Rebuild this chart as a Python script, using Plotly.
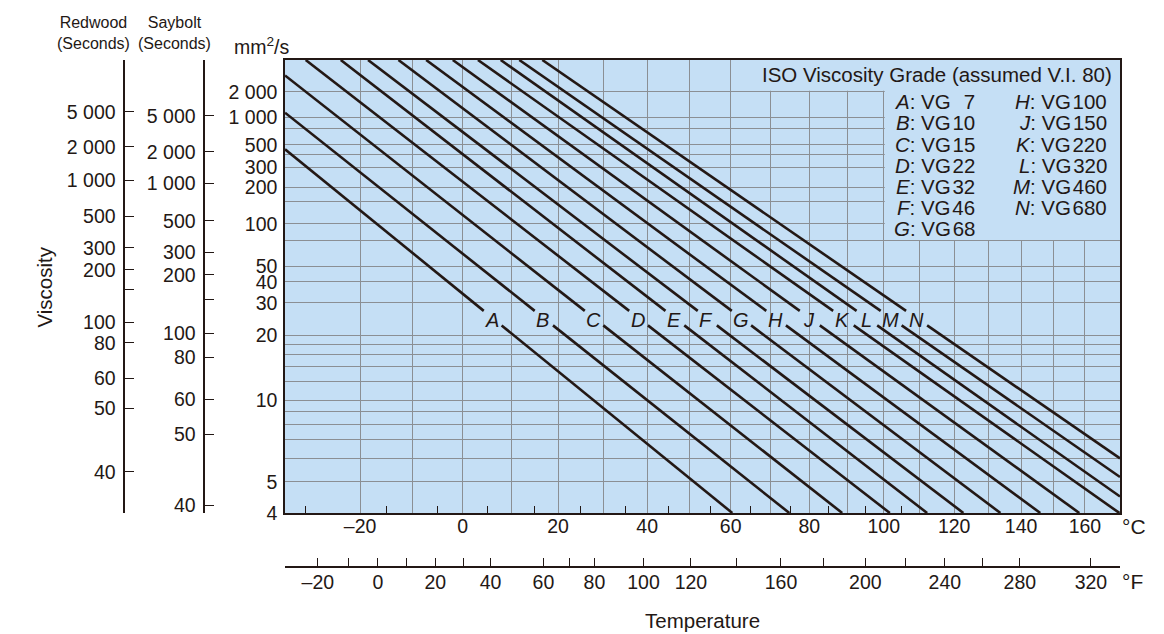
import numpy as np
import plotly.graph_objects as go

# ---------------- data ----------------
grade_letters = ["A", "B", "C", "D", "E", "F", "G", "H", "J", "K", "L", "M", "N"]
iso_vg = [7, 10, 15, 22, 32, 46, 68, 100, 150, 220, 320, 460, 680]
# each grade line: start point (temperature degC, viscosity mm2/s) and end point
start_temp_c = [-33.7, -33.7, -33.7, -30.0, -23.6, -18.5, -12.7, -7.3, -2.0, 3.1, 7.8, 11.7, 16.6]
start_visc = [453, 1122, 3240, 5270, 5270, 5270, 5270, 5270, 5270, 5270, 5270, 5270, 5270]
end_temp_c = [60.4, 74.8, 88.7, 101.7, 112.2, 122.7, 133.7, 145.9, 158.2, 171.2, 171.4, 171.4, 171.4]
end_visc = [4, 4, 4, 4, 4, 4, 4, 4, 4, 4, 4.49, 5.19, 6.0]

# kinematic viscosity grid / tick labels (mm2/s)
visc_grid = [4, 5, 6, 7, 8, 9, 10, 12, 14, 16, 18, 20, 30, 40, 50, 75, 100, 150, 200, 300, 400, 500, 750, 1000, 2000]
visc_labels = ["4", "5", "", "", "", "", "10", "", "", "", "", "20", "30", "40", "50", "", "100", "", "200", "300",
               "", "500", "", "1 000", "2 000"]

# Redwood seconds scale and equivalent mm2/s
redwood_sec_labels = ["40", "50", "60", "80", "100", "", "200", "300", "500", "1 000", "2 000", "5 000"]
redwood_equiv_cst = [5.40, 9.26, 12.4, 18.3, 23.3, 35.7, 47.6, 67.1, 115, 231, 480, 1152]
# Saybolt seconds scale and equivalent mm2/s
saybolt_sec_labels = ["40", "50", "60", "80", "100", "", "200", "300", "500", "1 000", "2 000", "5 000"]
saybolt_equiv_cst = [4.21, 7.33, 10.1, 15.5, 20.4, 31.2, 44.2, 62.3, 106, 216, 428, 1028]

# temperature scales
temp_grid_c = list(range(-20, 161, 10))
temp_labels_c = ["" if t % 20 else ("–" + str(-t) if t < 0 else str(t)) for t in temp_grid_c]
temp_minor_c = [-30, -15, -5, 5, 15, 25, 35, 45, 55, 65, 75, 85, 95, 105]
temp_ticks_f = [-20, -10, 0, 10, 20, 30, 40, 60, 70, 80, 100, 120, 140, 160, 180, 200, 220, 240, 260, 280, 320]
temp_labels_f = ["–20", "", "0", "", "20", "", "40", "60", "", "80", "100", "120", "", "160", "", "200", "", "240",
                 "", "280", "320"]

T_MIN, T_MAX = -33.7, 171.4
V_MIN, V_MAX = 4, 5270


# ---------------- chart scales (ASTM D341 style) ----------------
def tx(t):
    return np.log10(np.asarray(t, dtype=float) + 273.15)


def vy(v):
    return np.log10(np.log10(np.asarray(v, dtype=float) + 0.7))


INK = "#231815"
BG = "#c5dff5"
GRID = "#8b8f94"
FONT = "Liberation Sans, Arial, Helvetica, sans-serif"

OFF = 8  # page body margin
W, H = 1164 - OFF, 634 - OFF
ML, MR, MT, MB = 10, 44, 52, 4
PW, PH = W - ML - MR, H - MT - MB


def xp(px):  # screen px -> paper
    return (px - OFF - ML) / PW


def yp(py):
    return (H - MB - (py - OFF)) / PH


xr = [float(tx(T_MIN)), float(tx(T_MAX))]
yr = [float(vy(V_MIN)), float(vy(V_MAX))]
x_unit_per_px = (xr[1] - xr[0]) / (1120 - 285)
y_unit_per_px = (yr[1] - yr[0]) / (513 - 60)

fig = go.Figure()

# grade lines with a gap where the letter sits
gap_hi, gap_lo, lab_v = 27.0, 22.5, 24.0
annotations = []
for i, g in enumerate(grade_letters):
    X0, Y0 = float(tx(start_temp_c[i])), float(vy(start_visc[i]))
    X1, Y1 = float(tx(end_temp_c[i])), float(vy(end_visc[i]))

    def x_at(Y):
        return X0 + (Y - Y0) / (Y1 - Y0) * (X1 - X0)

    Yh, Yl, Ylab = float(vy(gap_hi)), float(vy(gap_lo)), float(vy(lab_v))
    xs = [X0, x_at(Yh), None, x_at(Yl), X1]
    ys = [Y0, Yh, None, Yl, Y1]
    fig.add_trace(go.Scatter(x=xs, y=ys, mode="lines", line=dict(color=INK, width=2.6),
                             hoverinfo="skip", showlegend=False, name=f"{g}: VG{iso_vg[i]}"))
    annotations.append(dict(x=x_at(Ylab), y=Ylab, xref="x", yref="y", text=f"<i>{g}</i>", showarrow=False,
                            xanchor="center", yanchor="middle", xshift=-3.5,
                            font=dict(family=FONT, size=20, color=INK)))

# invisible anchors so that the secondary scales are drawn
for xa, ya in [("x2", "y"), ("x3", "y"), ("x", "y2"), ("x", "y3")]:
    fig.add_trace(go.Scatter(x=[xr[0]], y=[yr[0]], xaxis=xa, yaxis=ya, mode="markers",
                             marker=dict(opacity=0, size=1), hoverinfo="skip", showlegend=False))

# legend area without grid
shapes = [
    dict(type="rect", xref="x", yref="y", layer="between", line=dict(width=0), fillcolor=BG,
         x0=float(tx(60)) + x_unit_per_px, x1=xr[1], y0=float(vy(2000)) + y_unit_per_px, y1=yr[1]),
    dict(type="rect", xref="x", yref="y", layer="between", line=dict(width=0), fillcolor=BG,
         x0=float(tx(100)) + x_unit_per_px, x1=xr[1], y0=float(vy(75)) + y_unit_per_px, y1=yr[1]),
]

# legend texts
annotations.append(dict(x=xp(1114), y=yp(75), xref="paper", yref="paper",
                        text="ISO Viscosity Grade (assumed V.I. 80)", showarrow=False,
                        xanchor="right", yanchor="middle", font=dict(family=FONT, size=20.5, color=INK)))
for i, g in enumerate(grade_letters):
    col = 0 if i < 7 else 1
    row = i if i < 7 else i - 7
    num = str(iso_vg[i]) if iso_vg[i] >= 10 else "\u2007" + str(iso_vg[i])
    annotations.append(dict(x=xp(977 if col == 0 else 1108.5), y=yp(101.7 + row * 21.2), xref="paper", yref="paper",
                            text=f"<i>{g}</i>: VG\u200a{num}", showarrow=False, xanchor="right", yanchor="middle",
                            font=dict(family=FONT, size=20.5, color=INK)))


# other texts
def txt(x, y, s, size=19, **kw):
    d = dict(x=xp(x), y=yp(y), xref="paper", yref="paper", text=s, showarrow=False,
             xanchor="center", yanchor="middle", font=dict(family=FONT, size=size, color=INK))
    d.update(kw)
    annotations.append(d)


txt(93, 33, "Redwood<br>(Seconds)", size=16)
txt(174, 33, "Saybolt<br>(Seconds)", size=16)
txt(262, 46, "mm<sup>2</sup>/s", size=19.5)
txt(43.5, 287, "Viscosity", size=20.5, textangle=-90)
txt(702, 620, "Temperature", size=20.5)
txt(1120, 526, "°C", size=21, xanchor="left")
txt(1120, 581, "°F", size=21, xanchor="left")

tickfont = dict(family=FONT, size=19.5, color=INK)

fig.update_layout(
    width=W, height=H,
    margin=dict(l=ML, r=MR, t=MT, b=MB),
    paper_bgcolor="white", plot_bgcolor=BG,
    showlegend=False,
    shapes=shapes, annotations=annotations,
    xaxis=dict(domain=[xp(285), 1.0], range=xr, tickmode="array",
               tickvals=[float(v) for v in tx(temp_grid_c)], ticktext=temp_labels_c,
               showgrid=True, gridcolor=GRID, gridwidth=1.2, zeroline=False,
               showline=True, linecolor=INK, linewidth=1.5, mirror=True,
               ticks="", ticklen=0, ticklabelstandoff=-5, tickfont=tickfont, automargin=False),
    yaxis=dict(domain=[yp(513), 1.0], range=yr, tickmode="array",
               tickvals=[float(v) for v in vy(visc_grid)], ticktext=visc_labels,
               showgrid=True, gridcolor=GRID, gridwidth=1.2, zeroline=False,
               showline=True, linecolor=INK, linewidth=1.5, mirror=True,
               ticks="", ticklen=0, ticklabelstandoff=2, tickfont=tickfont, automargin=False),
    # minor temperature ticks inside the bottom edge
    xaxis3=dict(overlaying="x", anchor="y", side="bottom", range=xr, tickmode="array",
                tickvals=[float(v) for v in tx(temp_minor_c)], ticks="inside", ticklen=7, tickwidth=1.3,
                tickcolor=INK, showticklabels=False, showgrid=False, zeroline=False, showline=False,
                automargin=False),
    # Fahrenheit scale
    xaxis2=dict(overlaying="x", anchor="free", position=yp(567.3), side="bottom",
                range=[xr[0] - 6 * x_unit_per_px, xr[1] - 6 * x_unit_per_px], tickmode="array",
                tickvals=[float(v) for v in tx((np.array(temp_ticks_f) - 32) * 5 / 9)], ticktext=temp_labels_f,
                ticks="inside", ticklen=9, tickwidth=1.3, tickcolor=INK,
                showgrid=False, zeroline=False, showline=True, linecolor=INK, linewidth=1.5,
                ticklabelstandoff=-2, tickfont=tickfont, automargin=False),
    # Redwood scale
    yaxis2=dict(overlaying="y", anchor="free", position=xp(124.3), side="left", range=yr, tickmode="array",
                tickvals=[float(v) for v in vy(redwood_equiv_cst)], ticktext=redwood_sec_labels,
                ticks="inside", ticklen=9, tickwidth=1.3, tickcolor=INK,
                showgrid=False, zeroline=False, showline=True, linecolor=INK, linewidth=1.5,
                ticklabelstandoff=4, tickfont=tickfont, automargin=False),
    # Saybolt scale
    yaxis3=dict(overlaying="y", anchor="free", position=xp(204.3), side="left", range=yr, tickmode="array",
                tickvals=[float(v) for v in vy(saybolt_equiv_cst)], ticktext=saybolt_sec_labels,
                ticks="inside", ticklen=9, tickwidth=1.3, tickcolor=INK,
                showgrid=False, zeroline=False, showline=True, linecolor=INK, linewidth=1.5,
                ticklabelstandoff=4, tickfont=tickfont, automargin=False),
)

fig.write_html("out.html")
